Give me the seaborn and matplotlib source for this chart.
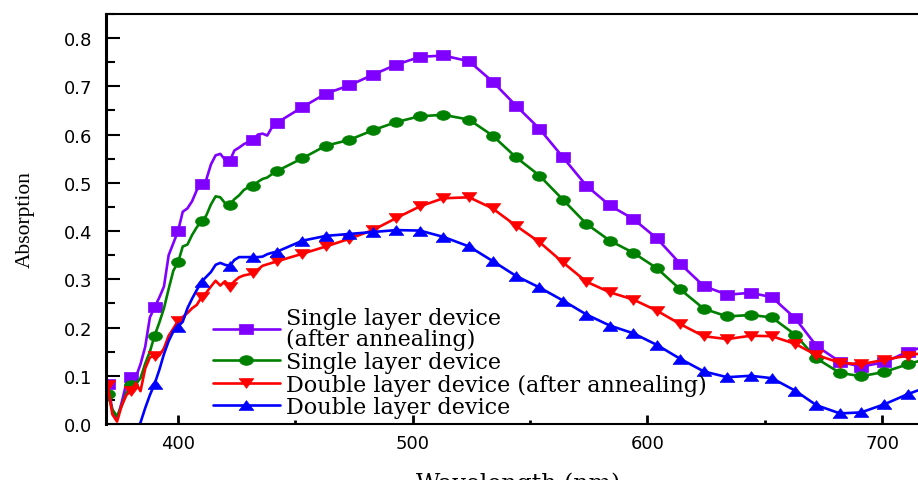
import numpy as np
import pandas as pd
import matplotlib
matplotlib.use("Agg")
import matplotlib.pyplot as plt
from matplotlib.ticker import MultipleLocator
import seaborn as sns

# wavelength grid (nm): fine steps in the noisy onset, then one point per marker
wavelength = [370, 372, 374, 376, 378, 380, 382, 384, 386, 388,
              390, 392, 394, 396, 398, 400, 402, 404, 406, 408,
              410, 412, 414, 416, 418, 420, 422, 424, 426, 428,
              430, 432, 434, 436, 438, 440, 442,
              453, 463, 473, 483, 493, 503, 513, 524, 534, 544,
              554, 564, 574, 584, 594, 604, 614, 624, 634, 644,
              653, 663, 672, 682, 691, 701, 711, 721]

single_annealed = [0.083, 0.030, 0.010, 0.045, 0.085, 0.097, 0.097, 0.124, 0.160, 0.221,
                   0.242, 0.262, 0.285, 0.350, 0.375, 0.400, 0.440, 0.447, 0.462, 0.485,
                   0.498, 0.506, 0.538, 0.557, 0.560, 0.548, 0.545, 0.567, 0.573, 0.580,
                   0.585, 0.588, 0.600, 0.602, 0.598, 0.615, 0.624,
                   0.657, 0.685, 0.702, 0.724, 0.745, 0.761, 0.764, 0.752, 0.710, 0.660,
                   0.612, 0.553, 0.494, 0.453, 0.425, 0.385, 0.332, 0.286, 0.268, 0.272,
                   0.263, 0.219, 0.162, 0.129, 0.119, 0.128, 0.150, 0.165]

single = [0.062, 0.030, 0.016, 0.038, 0.065, 0.080, 0.083, 0.095, 0.125, 0.150,
          0.183, 0.210, 0.240, 0.280, 0.318, 0.335, 0.368, 0.372, 0.392, 0.408,
          0.420, 0.432, 0.455, 0.472, 0.470, 0.458, 0.455, 0.466, 0.474, 0.485,
          0.491, 0.493, 0.502, 0.508, 0.511, 0.518, 0.524,
          0.551, 0.577, 0.589, 0.609, 0.626, 0.638, 0.641, 0.631, 0.598, 0.553,
          0.515, 0.465, 0.415, 0.380, 0.355, 0.323, 0.279, 0.239, 0.223, 0.226,
          0.221, 0.185, 0.136, 0.106, 0.099, 0.108, 0.124, 0.138]

double_annealed = [0.080, 0.020, 0.005, 0.038, 0.060, 0.069, 0.085, 0.068, 0.115, 0.138,
                   0.142, 0.142, 0.157, 0.183, 0.198, 0.214, 0.222, 0.230, 0.240, 0.247,
                   0.263, 0.272, 0.285, 0.297, 0.287, 0.296, 0.285, 0.296, 0.304, 0.308,
                   0.310, 0.313, 0.320, 0.328, 0.331, 0.334, 0.337,
                   0.353, 0.368, 0.384, 0.402, 0.427, 0.451, 0.468, 0.470, 0.447, 0.411,
                   0.377, 0.335, 0.295, 0.273, 0.258, 0.235, 0.207, 0.182, 0.176, 0.183,
                   0.182, 0.166, 0.143, 0.127, 0.124, 0.133, 0.142, 0.150]

double = [np.nan, np.nan, np.nan, np.nan, np.nan, -0.050, -0.022, 0.003, 0.033, 0.060,
          0.083, 0.112, 0.145, 0.172, 0.192, 0.202, 0.212, 0.240, 0.260, 0.278,
          0.295, 0.305, 0.315, 0.330, 0.334, 0.330, 0.328, 0.340, 0.346, 0.346,
          0.346, 0.346, 0.346, 0.347, 0.352, 0.355, 0.357,
          0.380, 0.390, 0.394, 0.398, 0.402, 0.401, 0.388, 0.368, 0.338, 0.307,
          0.283, 0.256, 0.227, 0.204, 0.188, 0.164, 0.135, 0.109, 0.097, 0.100,
          0.095, 0.069, 0.039, 0.022, 0.024, 0.041, 0.062, 0.080]

# wavelengths that carry a symbol
marked = [370, 380, 390, 400, 410, 422, 432] + [w for w in wavelength if w >= 442]

labels = ["Single layer device\n(after annealing)", "Single layer device",
          "Double layer device (after annealing)", "Double layer device"]
colors = ["#8000FF", "#008000", "#FF0000", "#0000FF"]

# the source picture is stretched sideways, so symbols are wider than tall
t = np.linspace(0, 2 * np.pi, 40)
ellipse = list(zip(0.72 * np.cos(t), 0.5 * np.sin(t)))
rect = [(-0.7, -0.5), (0.7, -0.5), (0.7, 0.5), (-0.7, 0.5), (-0.7, -0.5)]
tri_down = [(-0.75, 0.5), (0.75, 0.5), (0, -0.5), (-0.75, 0.5)]
tri_up = [(-0.75, -0.5), (0.75, -0.5), (0, 0.5), (-0.75, -0.5)]
markers = [rect, ellipse, tri_down, tri_up]
msizes = [10, 10, 10.5, 10.5]

sns.set_theme(style="ticks")
plt.rcParams["font.family"] = ["DejaVu Sans"]

fig = plt.figure(figsize=(9.18, 4.81), dpi=100)
ax = fig.add_axes([106 / 918, 1 - 425 / 481, (930 - 106) / 918, (425 - 15) / 481])

series = [single_annealed, single, double_annealed, double]
for vals, lab, col, mk, ms in zip(series, labels, colors, markers, msizes):
    df = pd.DataFrame({"wl": wavelength, "val": vals}).dropna().reset_index(drop=True)
    idx = [i for i, w in enumerate(df["wl"]) if w in marked]
    sns.lineplot(data=df, x="wl", y="val", ax=ax, color=col, lw=1.9,
                 marker=mk, markersize=ms, markevery=idx,
                 markeredgecolor=col, markerfacecolor=col, markeredgewidth=0.5,
                 label=lab, legend=False)

ax.set_xlim(369.3, 720.4)
ax.set_ylim(0, 0.85)
ax.xaxis.set_major_locator(MultipleLocator(100))
ax.xaxis.set_minor_locator(MultipleLocator(50))
ax.yaxis.set_major_locator(MultipleLocator(0.1))
ax.yaxis.set_minor_locator(MultipleLocator(0.05))
ax.yaxis.set_major_formatter(plt.FormatStrFormatter("%.1f"))

ax.tick_params(axis="x", which="major", direction="in", length=6.5, width=2,
               labelsize=13, pad=7, color="black", labelcolor="black")
ax.tick_params(axis="x", which="minor", direction="in", length=3, width=2, color="black")
ax.tick_params(axis="y", which="major", direction="in", length=10, width=1.5,
               labelsize=13, pad=10, color="black", labelcolor="black")
ax.tick_params(axis="y", which="minor", direction="in", length=6.5, width=1.5, color="black")
ax.tick_params(top=False, right=False, which="both")

for side in ["top", "bottom", "right"]:
    ax.spines[side].set_linewidth(1.5)
    ax.spines[side].set_color("black")
ax.spines["left"].set_linewidth(2.2)
ax.spines["left"].set_color("black")

ax.set_xlabel("Wavelength (nm)", fontfamily="DejaVu Serif", fontsize=17, labelpad=14, color="black")
ax.set_ylabel("Absorption", fontfamily="Liberation Serif", fontsize=15.5, labelpad=21, color="black")

leg = ax.legend(loc="lower left", bbox_to_anchor=(0.13, 0.014), frameon=False,
                prop={"family": "DejaVu Serif", "size": 16}, handlelength=3.0,
                handletextpad=0.3, labelspacing=0.03, borderpad=0, borderaxespad=0)
for txt in leg.get_texts():
    txt.set_linespacing(0.95)
    txt.set_color("black")

fig.savefig("out.png", dpi=100)
